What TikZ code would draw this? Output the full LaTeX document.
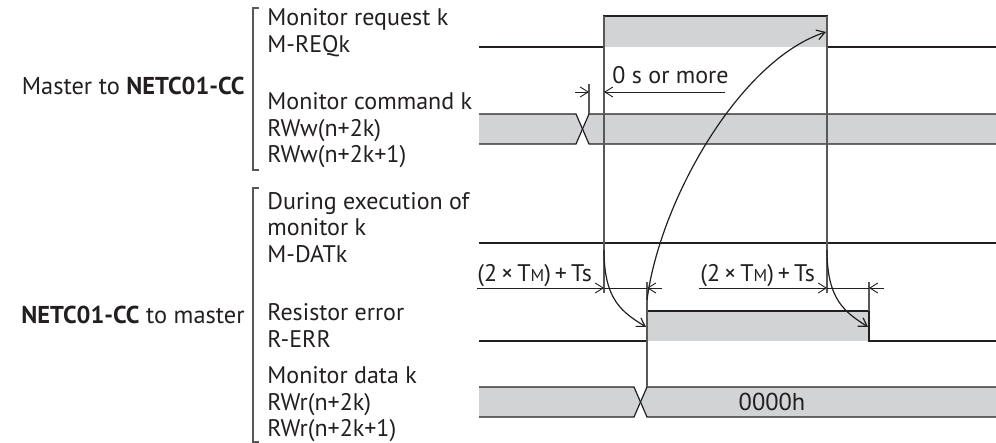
\documentclass[tikz,border=0pt]{standalone}
\usepackage{fontspec}
\setmainfont{PT Sans}
\usetikzlibrary{arrows.meta}

\definecolor{sig}{HTML}{231F20}
\definecolor{band}{HTML}{D1D3D4}

\tikzset{
  wave/.style={draw=sig, line width=.6pt},
  guide/.style={draw=sig!75, line width=.55pt},
  dim/.style={draw=sig, line width=.45pt},
  tip/.style={-{Straight Barb[length=4pt,width=5pt]}},
  lbl/.style={anchor=base west, inner sep=0pt, text=sig, font=\fontsize{12}{14}\selectfont},
  grp/.style={anchor=base east, inner sep=0pt, text=sig, font=\fontsize{12.2}{14}\selectfont},
}
\newcommand{\tm}{T{\fontsize{8.6}{10}\selectfont M}}

\begin{document}
\begin{tikzpicture}[x=.5pt, y=-.5pt]
  \useasboundingbox (0,0) rectangle (996,443);

  % brackets and group names
  \draw[guide] (259,8) -- (253,8) -- (253,170) -- (259,170);
  \draw[guide] (259,188) -- (253,188) -- (253,442) -- (259,442);
  \node[grp] (mst) at (245,95) {Master to \textbf{NETC01-CC}};
  \node[grp] (net) at (245,323) {\textbf{NETC01-CC} to master};

  % signal names
  \foreach \y/\t [count=\i] in {26/Monitor request k, 53/M-REQk,
      110/Monitor command k, 137/RWw(n+2k), 163/RWw(n+2k+1),
      210/During execution of, 236/monitor k, 263/M-DATk,
      321/Resistor error, 348/R-ERR,
      383/Monitor data k, 410/RWr(n+2k), 436/RWr(n+2k+1)}
    \node[lbl] (s\i) at (267,\y) {\t};

  % M-REQk
  \fill[band] (604,16) rectangle (827,47);
  \draw[wave] (479,47) -- (604,47) -- (604,16) -- (827,16) -- (827,47) -- (996,47);

  % buses: command k and data k
  \foreach \yt/\xa in {114/576, 387/634} {
    \fill[band] (479,\yt) -- (\xa,\yt) -- (\xa+6.5,\yt+15) -- (\xa,\yt+30) -- (479,\yt+30) -- cycle;
    \fill[band] (\xa+13,\yt) -- (996,\yt) -- (996,\yt+30) -- (\xa+13,\yt+30) -- (\xa+6.5,\yt+15) -- cycle;
    \draw[wave] (479,\yt) -- (\xa,\yt) -- (\xa+13,\yt+30) -- (996,\yt+30);
    \draw[wave] (479,\yt+30) -- (\xa,\yt+30) -- (\xa+13,\yt) -- (996,\yt);
  }
  \node[text=sig, font=\fontsize{12.2}{14}\selectfont] (dat) at (772,402) {0000h};

  % M-DATk
  \draw[wave] (479,243) -- (996,243);

  % R-ERR
  \fill[band] (647,311) rectangle (869,341);
  \draw[wave] (479,341) -- (647,341) -- (647,311) -- (869,311) -- (869,341) -- (996,341);

  % guide lines
  \draw[guide] (604,16) -- (604,293);
  \draw[guide] (827,16) -- (827,293);
  \draw[guide] (647,282) -- (647,387);
  \draw[guide] (589,84) -- (589,114);
  \draw[guide] (869,282) -- (869,311);

  % timing marks
  \coordinate (c1) at (589,92);
  \coordinate (c2) at (604,92);
  \draw[dim, tip] (575,92) -- (c1);
  \draw[dim, tip] (725,92) -- (c2);
  \node[lbl] (zero) at (612,84) {0 s or more};

  \coordinate (l1) at (604,288);
  \coordinate (l2) at (647,288);
  \draw[dim] (l1) -- (l2);
  \draw[dim, tip] (477,288) -- (l1);
  \draw[dim, tip] (662,288) -- (l2);
  \node[lbl] (tl) at (477,282) {(2\,×\,\tm)\,+\,Ts};

  \coordinate (r1) at (827,288);
  \coordinate (r2) at (869,288);
  \draw[dim] (r1) -- (r2);
  \draw[dim, tip] (699,288) -- (r1);
  \draw[dim, tip] (884,288) -- (r2);
  \node[lbl] (tr) at (700,282) {(2\,×\,\tm)\,+\,Ts};

  % cause arrows
  \coordinate (reqon) at (604,250);
  \coordinate (reqoff) at (827,250);
  \coordinate (erron) at (646,327);
  \coordinate (erroff) at (868,327);
  \coordinate (errfoot) at (647,300);
  \coordinate (reqtop) at (826,32);
  \draw[wave, tip] (reqon) .. controls (604,300) and (622,312) .. (erron);
  \draw[wave, tip] (reqoff) .. controls (827,300) and (845,312) .. (erroff);
  \draw[wave, tip] (errfoot) .. controls (660,200) and (740,60) .. (reqtop);
\end{tikzpicture}
\end{document}
